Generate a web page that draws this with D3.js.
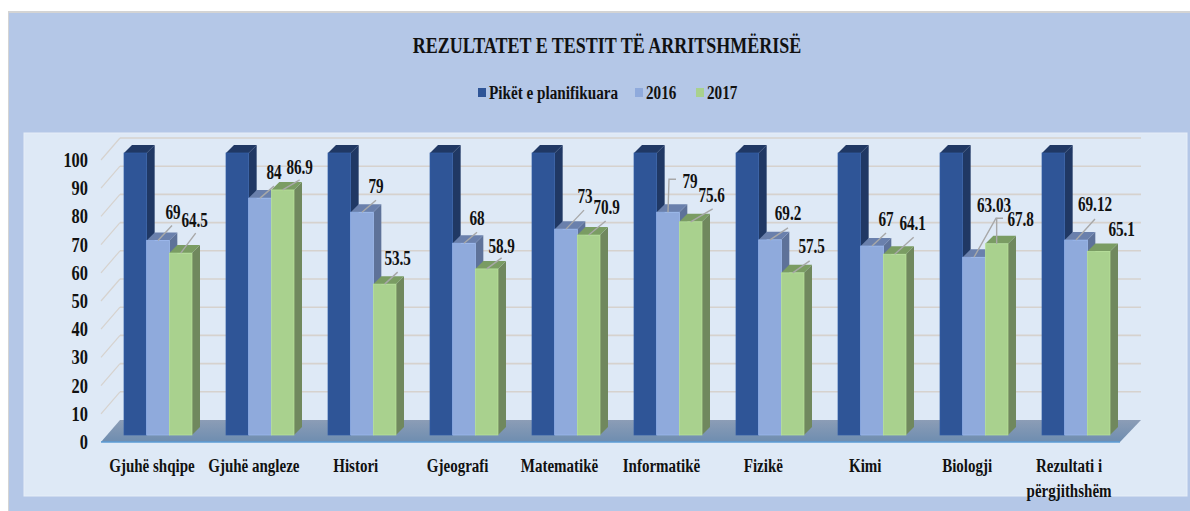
<!DOCTYPE html>
<html>
<head>
<meta charset="utf-8">
<style>
  html, body { margin: 0; padding: 0; background: #fff; }
  svg { display: block; }
  text { font-family: "Liberation Serif", serif; font-weight: bold; fill: #111; }
</style>
</head>
<body>
<script src="https://cdn.jsdelivr.net/npm/d3@7"></script>
<script>
const categories = ['Gjuhë shqipe', 'Gjuhë angleze', 'Histori', 'Gjeografi', 'Matematikë',
    'Informatikë', 'Fizikë', 'Kimi', 'Biologji', 'Rezultati i përgjithshëm'];
const planned = [100, 100, 100, 100, 100, 100, 100, 100, 100, 100];
const values2016 = [69, 84, 79, 68, 73, 79, 69.2, 67, 63.03, 69.12];
const values2017 = [64.5, 86.9, 53.5, 58.9, 70.9, 75.6, 57.5, 64.1, 67.8, 65.1];
const seriesNames = ['Pikët e planifikuara', '2016', '2017'];
const yTicks = [0, 10, 20, 30, 40, 50, 60, 70, 80, 90, 100];

// hand placed data labels, relative to the top centre of the bar: [labelDx, labelDy, leader points...]
const labels2016 = [
    [15, -28, [14, -15]], [14, -26, [14, -12]], [14, -26, [14, -12]], [13, -25, [13, -11]],
    [19, -33, [18, -19]], [22, -31, [1, -33], [8, -33]], [18, -26, [18, -12]], [14, -27, [14, -13]],
    [20, -52, [22, -39], [29, -39]], [19, -36, [19, -21]]
];
const labels2017 = [
    [14, -33, [15, -20]], [17, -23, [17, -10]], [13, -26, [13, -12]], [15, -23, [15, -11]],
    [18, -28, [17, -14]], [21, -26, [22, -13]], [19, -26, [17, -12]], [18, -31, [19, -17]],
    [24, -24, [0, -26]], [23, -22]
];

const outerWidth = 1190;
const outerHeight = 511;
const depth = 8;

const colors = [
    {front: '#2F5597', side: '#203864', top: '#203864'},
    {front: '#8FAADC', side: '#5E7299', top: '#6A80AC'},
    {front: '#A9D18E', side: '#70885E', top: '#7A9C63'}
];

const svg = d3.select('body')
    .append('svg')
    .attr('width', outerWidth)
    .attr('height', outerHeight);

// background panels
svg.append('rect').attr('x', 8).attr('y', 11).attr('width', 1182).attr('height', 500).attr('fill', '#D4D4D4');
svg.append('rect').attr('x', 9).attr('y', 13).attr('width', 1181).attr('height', 498).attr('fill', '#B4C7E7');
svg.append('rect').attr('x', 24).attr('y', 133).attr('width', 1163).attr('height', 363)
    .attr('fill', '#DEE9F6').attr('stroke', '#E6EEF8');

// same value scale on the three planes of the 3d box
const yBar = d3.scaleLinear().domain([0, 100]).range([435, 153]);
const yBack = d3.scaleLinear().domain([0, 100]).range([420, 138]);
const yFront = d3.scaleLinear().domain([0, 100]).range([442, 160]);

const xGroup = d3.scaleBand().domain(categories).range([107, 1127]).paddingInner(1 / 3).paddingOuter(1 / 6);
const xSeries = d3.scaleBand().domain(seriesNames).range([0, xGroup.bandwidth()]);
const xFront = d3.scaleBand().domain(categories).range([101, 1120]);

const backLeft = 120, backRight = 1141, frontLeft = 101, frontRight = 1120;

// floor
const grad = svg.append('defs').append('linearGradient')
    .attr('id', 'floor').attr('x1', 0).attr('y1', 0).attr('x2', 0).attr('y2', 1);
grad.append('stop').attr('offset', 0).attr('stop-color', '#8C9DB6');
grad.append('stop').attr('offset', 1).attr('stop-color', '#6E8DB0');

svg.append('path')
    .attr('d', d3.line()([[frontLeft, yFront(0)], [backLeft, yBack(0)], [backRight, yBack(0)], [frontRight, yFront(0)]]) + 'Z')
    .attr('fill', 'url(#floor)');
svg.append('line')
    .attr('x1', frontLeft).attr('x2', frontRight)
    .attr('y1', yFront(0)).attr('y2', yFront(0))
    .attr('stroke', '#5B9BD5').attr('stroke-width', 1.5);

// grid on back wall and on the left wall
const gridTicks = yTicks.filter(d => d > 0);
svg.append('g').selectAll('line').data(gridTicks).enter().append('line')
    .attr('x1', backLeft).attr('x2', backRight)
    .attr('y1', d => yBack(d)).attr('y2', d => yBack(d))
    .attr('stroke', '#D6D2CE').attr('stroke-width', 1.6);
svg.append('g').selectAll('line').data(gridTicks).enter().append('line')
    .attr('x1', frontLeft).attr('x2', backLeft)
    .attr('y1', d => yFront(d)).attr('y2', d => yBack(d))
    .attr('stroke', '#D6D2CE').attr('stroke-width', 1.2);

// bars
const series = [planned, values2016, values2017];

categories.forEach((cat, i) => {
    const g = svg.append('g').attr('class', 'group');
    series.forEach((vals, s) => {
        const x0 = xGroup(cat) + xSeries(seriesNames[s]);
        const x1 = x0 + xSeries.bandwidth();
        const yt = yBar(vals[i]);
        const yb = yBar(0);
        g.append('path')
            .attr('d', d3.line()([[x1, yt], [x1 + depth, yt - depth], [x1 + depth, yb - depth], [x1, yb]]) + 'Z')
            .attr('fill', colors[s].side);
        g.append('path')
            .attr('d', d3.line()([[x0, yt], [x0 + depth, yt - depth], [x1 + depth, yt - depth], [x1, yt]]) + 'Z')
            .attr('fill', colors[s].top);
        g.append('rect')
            .attr('x', x0)
            .attr('y', yt)
            .attr('width', x1 - x0)
            .attr('height', yb - yt)
            .attr('fill', colors[s].front)
            .attr('stroke', d3.color(colors[s].front).brighter(0.25))
            .attr('stroke-width', 0.7);
    });
});

// data labels with their leader lines
function drawLabels(vals, offsets, s) {
    const g = svg.append('g').attr('class', 'labels');
    vals.forEach((v, i) => {
        const cx = xGroup(categories[i]) + xSeries(seriesNames[s]) + xSeries.bandwidth() / 2;
        const cy = yBar(v);
        const off = offsets[i];
        const leader = off.slice(2);
        if (leader.length) {
            const pts = [[cx, cy]].concat(leader.map(p => [cx + p[0], cy + p[1]]));
            g.append('path')
                .attr('d', d3.line()(pts))
                .attr('fill', 'none')
                .attr('stroke', '#A8A8A8')
                .attr('stroke-width', 1.4);
        }
        g.append('text')
            .attr('transform', `translate(${cx + off[0]}, ${cy + off[1]}) scale(0.76, 1)`)
            .attr('text-anchor', 'middle')
            .attr('dy', '0.33em')
            .attr('font-size', 20)
            .text(v);
    });
}
drawLabels(values2016, labels2016, 1);
drawLabels(values2017, labels2017, 2);

// y axis
const yAxis = d3.axisLeft().scale(yFront).tickValues(yTicks).tickSize(0).tickPadding(0);
const yG = svg.append('g')
    .attr('class', 'axis y-axis')
    .attr('transform', 'translate(88, 0)')
    .call(yAxis);
yG.select('.domain').remove();
yG.selectAll('text')
    .attr('x', 0)
    .attr('transform', 'scale(0.82, 1)')
    .attr('font-size', 20)
    .style('font-family', '"Liberation Serif", serif');

// x axis
const xAxis = d3.axisBottom().scale(xFront).tickSize(0).tickPadding(0);
const xG = svg.append('g')
    .attr('class', 'axis x-axis')
    .attr('transform', `translate(0, ${yFront(0)})`)
    .call(xAxis);
xG.select('.domain').remove();
xG.selectAll('text')
    .attr('y', 0)
    .attr('dy', null)
    .attr('transform', 'translate(0, 30) scale(0.79, 1)')
    .attr('font-size', 19)
    .style('font-family', '"Liberation Serif", serif')
    .each(function(d) {
        if (d !== 'Rezultati i përgjithshëm') return;
        const t = d3.select(this).text(null);
        t.append('tspan').attr('x', 0).text('Rezultati i');
        t.append('tspan').attr('x', 0).attr('dy', 25).text('përgjithshëm');
    });

// title
svg.append('text')
    .attr('transform', 'translate(607, 53) scale(0.75, 1)')
    .attr('text-anchor', 'middle')
    .attr('font-size', 24)
    .text('REZULTATET E TESTIT TË ARRITSHMËRISË');

// legend
const legendX = d3.scaleOrdinal().domain(seriesNames).range([478, 635, 696]);
const legend = svg.append('g').selectAll('g').data(seriesNames).enter().append('g')
    .attr('transform', d => `translate(${legendX(d)}, 88)`);
legend.append('rect')
    .attr('width', 8).attr('height', 9)
    .attr('fill', (d, i) => colors[i].front);
legend.append('text')
    .attr('transform', 'translate(11, 11) scale(0.8, 1)')
    .attr('font-size', 19)
    .text(d => d);
</script>
</body>
</html>
